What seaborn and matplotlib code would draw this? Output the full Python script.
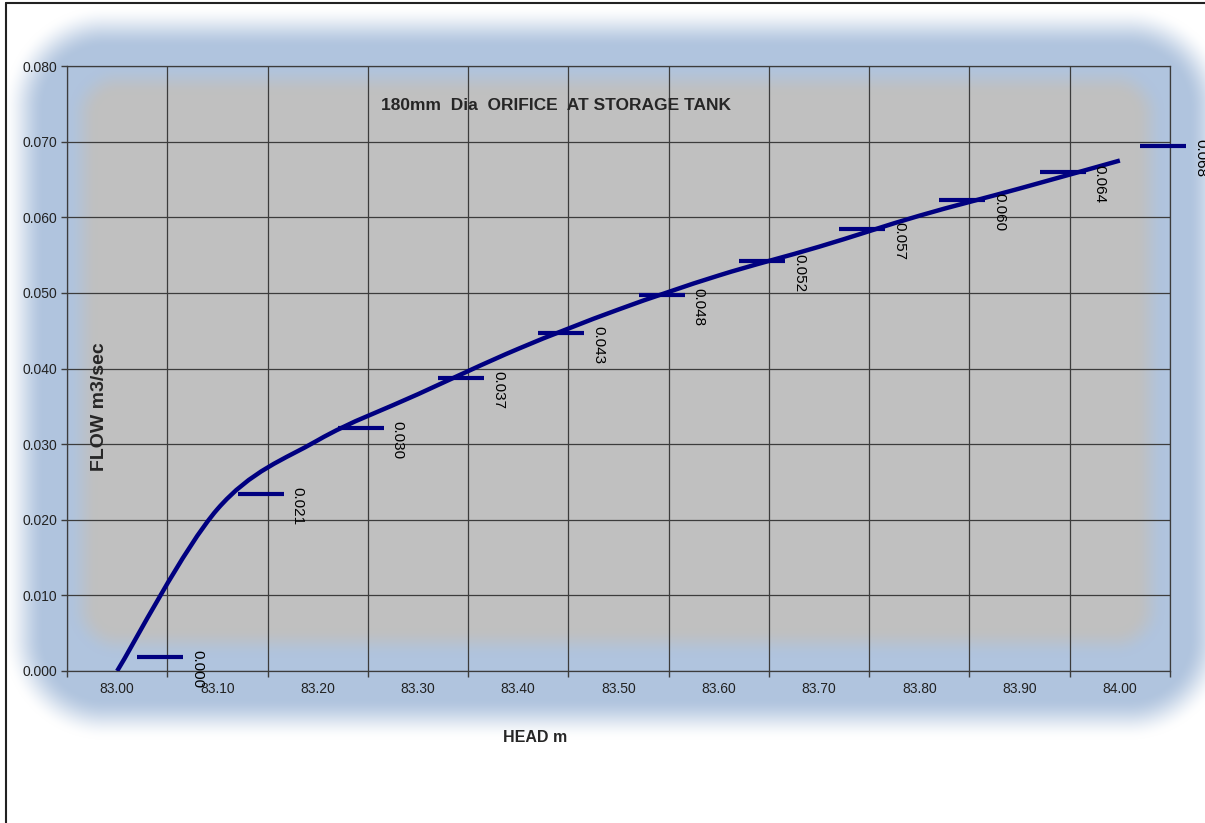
import numpy as np
import matplotlib
matplotlib.use("Agg")
import matplotlib.pyplot as plt
import seaborn as sns
from matplotlib.path import Path
from matplotlib.patches import PathPatch
from matplotlib.lines import Line2D

# Datos
heads = ["83.00", "83.10", "83.20", "83.30", "83.40", "83.50",
         "83.60", "83.70", "83.80", "83.90", "84.00"]
flow = [0.0000, 0.0214, 0.0305, 0.0366, 0.0426, 0.0478,
        0.0523, 0.0561, 0.0602, 0.0638, 0.0675]
marker_flow = [0.0019, 0.0234, 0.0321, 0.0388, 0.0447, 0.0497,
               0.0542, 0.0585, 0.0623, 0.0660, 0.0694]
flow_labels = ["0.000", "0.021", "0.030", "0.037", "0.043", "0.048",
               "0.052", "0.057", "0.060", "0.064", "0.068"]
y_ticks = [0.000, 0.010, 0.020, 0.030, 0.040, 0.050, 0.060, 0.070, 0.080]

NAVY = "#000080"
GRID = "#3c3c3c"

sns.set_style("white")
plt.rcParams["font.family"] = ["Liberation Sans", "DejaVu Sans"]

W, H = 1205, 823
fig = plt.figure(figsize=(W / 100, H / 100), dpi=100)


# Fondo: area azul y area gris con bordes difuminados
def soft_rect(x0, x1, y0, y1, inset, fade):
    xx, yy = np.meshgrid(np.arange(W) + 0.5, np.arange(H) + 0.5)
    cx0, cx1, cy0, cy1 = x0 + inset, x1 - inset, y0 + inset, y1 - inset
    dx = np.maximum(np.maximum(cx0 - xx, xx - cx1), 0)
    dy = np.maximum(np.maximum(cy0 - yy, yy - cy1), 0)
    d = np.hypot(dx, dy)
    t = np.clip(1 - (d - inset) / fade, 0, 1)
    return t * t * (3 - 2 * t)


blue = np.array([176, 196, 222]) / 255
gray = np.array([192, 192, 192]) / 255
a_blue = soft_rect(45, 1188, 48, 698, 60, 42)[..., None]
a_gray = soft_rect(98, 1135, 95, 628, 20, 30)[..., None]
img = np.ones((H, W, 3))
img = img * (1 - a_blue) + blue * a_blue
img = img * (1 - a_gray) + gray * a_gray

bg = fig.add_axes([0, 0, 1, 1], zorder=0)
bg.imshow(img, aspect="auto", interpolation="bilinear")
bg.axis("off")

fig.add_artist(Line2D([6 / W, 6 / W], [0, 1 - 3 / H], color="#222222", lw=1.5))
fig.add_artist(Line2D([6 / W, 1], [1 - 3 / H, 1 - 3 / H], color="#222222", lw=1.5))

# Ejes principales
left, right, top, bottom = 67, 1170, 66, 671
ax = fig.add_axes([left / W, 1 - bottom / H, (right - left) / W, (bottom - top) / H], zorder=1)
ax.set_facecolor("none")

pos = np.arange(len(heads))
ax.set_xlim(-0.5, len(heads) - 0.5)
ax.set_ylim(0, 0.08)

# Curva suavizada (Bezier tipo Catmull-Rom sobre los puntos)
P = np.column_stack([pos, flow]).astype(float)
Pe = np.vstack([P[0], P, P[-1]])
verts = [P[0]]
for i in range(len(P) - 1):
    p0, p1, p2, p3 = Pe[i], Pe[i + 1], Pe[i + 2], Pe[i + 3]
    verts += [p1 + (p2 - p0) / 6, p2 - (p3 - p1) / 6, p2]
codes = [Path.MOVETO] + [Path.CURVE4] * (3 * (len(P) - 1))
ax.add_patch(PathPatch(Path(verts, codes), facecolor="none", edgecolor=NAVY,
                       lw=3.2, capstyle="butt", zorder=4))

# Marcadores tipo guion con etiquetas
mx = pos + 0.43
sns.scatterplot(x=mx, y=marker_flow, marker="_", s=33 ** 2, color=NAVY,
                linewidth=3, ax=ax, zorder=5, clip_on=False, legend=False)
for x, y, lab in zip(mx, marker_flow, flow_labels):
    ax.annotate(lab, xy=(x + 0.23, y), xytext=(5, 5), textcoords="offset points",
                rotation=270, ha="left", va="top", fontsize=11, color="black",
                annotation_clip=False, zorder=6)

# Ejes, rejilla y marcas
ax.set_xticks(pos)
ax.set_xticklabels(heads)
ax.set_xticks(np.arange(-0.5, len(heads)), minor=True)
ax.tick_params(axis="x", which="major", length=0, pad=8, labelsize=10, labelcolor="#222222")
ax.tick_params(axis="x", which="minor", length=4, width=1, color=GRID, direction="out", bottom=True)
ax.set_yticks(y_ticks)
ax.set_yticklabels([f"{v:.3f}" for v in y_ticks])
ax.tick_params(axis="y", length=4, width=1, color=GRID, direction="out", pad=3,
               labelsize=10, labelcolor="#222222", left=True)
ax.grid(False)
for v in y_ticks:
    ax.axhline(v, color=GRID, lw=0.9, zorder=1)
for v in np.arange(-0.5, len(heads)):
    ax.axvline(v, color=GRID, lw=0.9, zorder=1)
for s in ax.spines.values():
    s.set_visible(True)
    s.set_color(GRID)
    s.set_linewidth(0.9)
ax.set_xlabel("")
ax.set_ylabel("")

ax.text((556 - left) / (right - left), (bottom - 106) / (bottom - top),
        "180mm  Dia  ORIFICE  AT STORAGE TANK", transform=ax.transAxes,
        ha="center", va="center", fontsize=12.5, fontweight="bold")
ax.text((99 - left) / (right - left), (bottom - 407) / (bottom - top),
        "FLOW m3/sec", transform=ax.transAxes, rotation=90,
        ha="center", va="center", fontsize=14, fontweight="bold")
ax.text((535 - left) / (right - left), (bottom - 738) / (bottom - top),
        "HEAD m", transform=ax.transAxes, ha="center", va="center",
        fontsize=11.5, fontweight="bold", clip_on=False)

fig.savefig("out.png", dpi=100)
